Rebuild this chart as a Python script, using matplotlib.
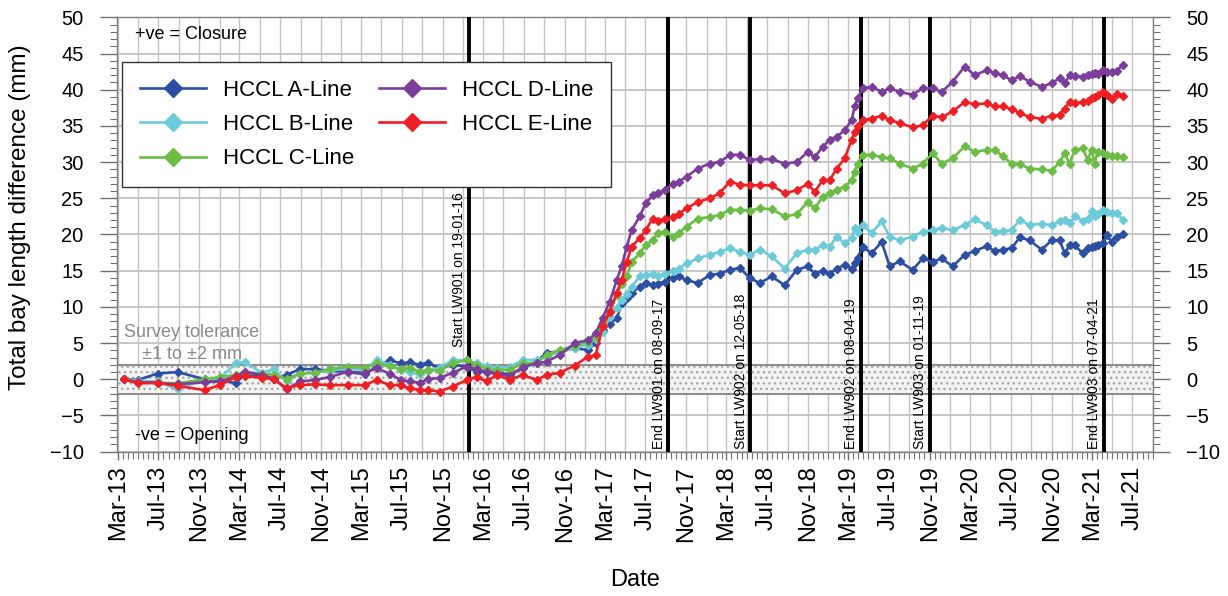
import matplotlib
matplotlib.use("Agg")
import matplotlib.pyplot as plt
import matplotlib.dates as mdates
import pandas as pd

plt.rcParams['font.family'] = ['Liberation Sans', 'DejaVu Sans']

# survey dates (shared by all five lines)
dates = [
    "2013-03-19", "2013-04-30", "2013-06-29", "2013-08-28", "2013-11-17", "2014-01-01",
    "2014-02-18", "2014-03-17", "2014-05-07", "2014-06-12", "2014-07-21", "2014-08-29",
    "2014-10-13", "2014-11-27", "2015-01-20", "2015-03-12", "2015-04-17", "2015-05-26",
    "2015-06-28", "2015-07-25", "2015-08-24", "2015-09-17", "2015-10-23", "2015-12-01",
    "2016-01-12", "2016-02-11", "2016-03-12", "2016-04-11", "2016-05-20", "2016-06-28",
    "2016-08-09", "2016-09-08", "2016-10-17", "2016-12-01", "2017-01-09", "2017-02-02",
    "2017-02-23", "2017-03-16", "2017-04-06", "2017-04-21", "2017-05-06", "2017-05-21",
    "2017-06-14", "2017-07-02", "2017-07-23", "2017-08-07", "2017-08-28", "2017-09-21",
    "2017-10-09", "2017-11-02", "2017-12-05", "2018-01-10", "2018-02-09", "2018-03-11",
    "2018-04-10", "2018-05-10", "2018-06-09", "2018-07-15", "2018-08-23", "2018-09-28",
    "2018-10-31", "2018-11-21", "2018-12-15", "2019-01-05", "2019-01-26", "2019-02-19",
    "2019-03-12", "2019-03-21", "2019-03-30", "2019-04-14", "2019-05-11", "2019-06-10",
    "2019-07-04", "2019-08-03", "2019-09-11", "2019-10-11", "2019-11-10", "2019-12-07",
    "2020-01-09", "2020-02-14", "2020-03-15", "2020-04-20", "2020-05-14", "2020-06-07",
    "2020-07-04", "2020-07-28", "2020-08-27", "2020-10-02", "2020-11-01", "2020-11-25",
    "2020-12-10", "2020-12-25", "2021-01-09", "2021-02-02", "2021-02-17", "2021-03-01",
    "2021-03-10", "2021-03-19", "2021-04-03", "2021-04-15", "2021-04-30", "2021-05-15",
    "2021-06-02",
]

line_a = [0, -0.1, 0.8, 1.0, 0.0, -0.1, -0.55, 0.7, 0.6, 0.1, 0.6, 1.4,
          1.4, 1.2, 1.0, 0.7, 1.75, 2.65, 2.2, 2.35, 2.0, 2.3, 1.5, 2.0,
          1.75, 1.05, 1.05, 0.9, 0.7, 1.5, 2.45, 3.7, 3.8, 4.3, 4.05, 5.0,
          6.8, 7.7, 8.4, 10.5, 11.2, 11.9, 12.8, 13.3, 13.0, 13.2, 13.5, 14.0,
          14.2, 13.7, 13.3, 14.4, 14.6, 15.1, 15.4, 14.0, 13.3, 14.2, 13.0, 15.1,
          15.6, 14.6, 15.0, 14.6, 15.3, 15.8, 15.3, 16.0, 16.8, 18.3, 17.4, 19.0,
          15.6, 16.3, 15.1, 16.7, 16.2, 16.7, 15.6, 17.2, 17.7, 18.4, 17.7, 17.9,
          18.1, 19.6, 19.2, 17.9, 19.2, 19.2, 17.4, 18.5, 18.5, 17.4, 18.1, 18.3,
          18.4, 18.5, 18.8, 19.9, 19.0, 19.7, 20.1]
line_b = [0, -0.2, -0.3, -1.4, 0.0, 0.1, 2.2, 2.4, 0.9, 1.4, -0.3, 0.8,
          0.9, 1.2, 1.5, 1.3, 2.7, 2.0, 1.3, 1.0, 0.7, 1.2, 1.6, 2.65,
          2.65, 2.2, 1.8, 1.6, 1.7, 2.65, 2.7, 3.1, 3.8, 4.3, 4.8, 5.6,
          6.6, 8.6, 9.8, 10.95, 11.8, 12.8, 14.2, 14.4, 14.6, 14.2, 14.6, 15.0,
          15.3, 16.0, 16.7, 17.2, 17.6, 18.1, 17.6, 17.2, 17.9, 17.0, 15.3, 17.4,
          17.9, 17.9, 18.5, 18.3, 19.7, 18.8, 19.5, 20.9, 20.4, 21.3, 20.2, 21.8,
          19.7, 19.2, 19.7, 20.4, 20.6, 20.9, 20.6, 21.3, 22.1, 21.3, 20.4, 20.5,
          20.6, 22.0, 21.3, 21.5, 21.3, 21.8, 22.0, 21.6, 22.5, 21.9, 22.1, 23.2,
          22.6, 22.8, 23.4, 23.1, 23.0, 23.0, 22.0]
line_c = [0, -0.4, -0.5, -0.55, 0.0, 0.3, 0.6, 0.9, 0.8, 0.6, 0.0, 0.8,
          0.9, 1.4, 1.75, 1.6, 2.2, 1.8, 1.4, 1.6, 1.05, 1.3, 1.2, 2.2,
          2.65, 2.0, 1.4, 1.3, 1.3, 2.2, 2.3, 3.4, 4.05, 4.6, 5.2, 5.9,
          7.7, 9.5, 11.6, 13.2, 14.2, 16.2, 17.4, 18.5, 19.2, 20.2, 20.4, 19.7,
          20.2, 21.1, 22.2, 22.4, 22.7, 23.4, 23.4, 23.3, 23.6, 23.5, 22.5, 22.8,
          24.5, 23.6, 25.2, 25.7, 26.2, 26.6, 27.5, 28.7, 29.8, 31.0, 31.0, 30.7,
          30.5, 29.8, 29.1, 29.8, 31.2, 29.8, 30.5, 32.2, 31.4, 31.7, 31.7, 30.8,
          29.8, 29.7, 29.1, 29.0, 28.8, 30.0, 31.2, 29.8, 31.7, 31.9, 30.3, 31.7,
          29.8, 31.4, 31.2, 31.0, 30.8, 30.8, 30.7]
line_d = [0, -0.4, -0.5, -0.7, -0.4, -0.3, 0.4, 1.05, 0.6, 0.1, -1.4, -0.3,
          -0.1, 0.3, 1.05, 0.9, 1.5, 0.8, -0.1, -0.3, -0.45, 0.0, 0.2, 0.9,
          1.75, 1.4, 1.0, 0.7, 0.45, 1.7, 2.2, 2.45, 3.35, 5.0, 5.4, 6.35,
          8.5, 10.7, 13.7, 15.6, 18.3, 20.6, 22.5, 24.3, 25.4, 25.7, 26.1, 27.0,
          27.3, 28.0, 29.1, 29.8, 30.0, 31.0, 31.0, 30.3, 30.4, 30.4, 29.8, 30.0,
          31.4, 30.7, 32.1, 33.1, 33.5, 34.4, 35.8, 37.7, 38.8, 40.2, 40.4, 39.7,
          40.2, 39.7, 39.3, 40.2, 40.2, 39.7, 41.1, 43.2, 42.0, 42.7, 42.3, 42.0,
          41.3, 41.9, 41.1, 40.4, 40.9, 41.6, 40.9, 42.0, 41.9, 41.8, 42.0, 42.2,
          42.3, 42.2, 42.7, 42.4, 42.5, 42.6, 43.4]
line_e = [0, -0.55, -0.5, -0.9, -1.5, -0.8, 0.3, 0.45, 0.2, 0.0, -1.2, -0.8,
          -0.7, -0.8, -0.8, -0.8, -0.1, -0.8, -0.8, -1.25, -1.5, -1.5, -1.7, -1.0,
          -0.1, 0.3, -0.3, 0.6, -0.1, 0.6, -0.1, 0.6, 0.9, 1.9, 3.1, 3.35,
          7.3, 9.3, 11.9, 13.7, 16.2, 18.3, 19.5, 20.6, 22.2, 21.8, 22.2, 22.4,
          22.9, 23.6, 24.5, 25.0, 25.7, 27.3, 26.9, 26.8, 26.8, 26.8, 25.7, 26.1,
          27.0, 25.9, 27.5, 27.5, 29.1, 30.5, 33.1, 34.2, 35.0, 35.8, 36.0, 36.4,
          35.8, 35.4, 34.8, 35.1, 36.4, 36.2, 37.0, 38.3, 38.0, 38.1, 37.7, 37.7,
          37.3, 36.8, 36.2, 36.0, 36.4, 36.5, 37.4, 38.3, 38.1, 38.3, 38.5, 38.8,
          39.0, 39.3, 39.7, 39.2, 38.7, 39.4, 39.1]

series_names = ["HCCL A-Line", "HCCL B-Line", "HCCL C-Line", "HCCL D-Line", "HCCL E-Line"]
series_colors = ["#2d4fa3", "#6ccbd9", "#6cbd45", "#7c3e9b", "#ee2025"]

event_dates = ["2016-01-19", "2017-09-08", "2018-05-12", "2019-04-08", "2019-11-01", "2021-04-07"]
event_labels = ["Start LW901 on 19-01-16", "End LW901 on 08-09-17", "Start LW902 on 12-05-18",
                "End LW902 on 08-04-19", "Start LW903 on 01-11-19", "End LW903 on 07-04-21"]
event_label_y = [4.5, -9.6, -9.6, -9.6, -9.6, -9.6]

GRID = "#b8b8b8"
x = pd.to_datetime(dates)

fig = plt.figure(figsize=(12.28, 5.96), dpi=100)
ax = fig.add_axes([117 / 1228, 1 - 451.7 / 596, 1036 / 1228, 434.4 / 596])

x0, x1 = pd.Timestamp("2013-02-27"), pd.Timestamp("2021-09-01")
ax.set_xlim(x0, x1)
ax.set_ylim(-10, 50)

# grid: horizontal every 5 mm, vertical every 2 months
for yv in range(-10, 51, 5):
    ax.axhline(yv, color=GRID, lw=1.1, zorder=0)
for d in pd.date_range("2013-03-01", "2021-09-01", freq="2MS"):
    ax.axvline(d, color="#c4c4c4", lw=1.0, zorder=0)

# survey tolerance band
ax.axhspan(-2, 2, facecolor="#f3f3f3", edgecolor="#a8a8a8", hatch="...", lw=0, zorder=1)
ax.axhline(2, color="#8c8c8c", lw=1.4, zorder=1)
ax.axhline(-2, color="#8c8c8c", lw=1.4, zorder=1)

for d, lbl, ly in zip(event_dates, event_labels, event_label_y):
    dt = pd.Timestamp(d)
    ax.axvline(dt, color="black", lw=2.8, zorder=3)
    ax.annotate(lbl, (dt, ly), xytext=(-2, 0), textcoords="offset points",
                rotation=90, ha="right", va="bottom", fontsize=10, zorder=6)

for vals, name, col in zip([line_a, line_b, line_c, line_d, line_e], series_names, series_colors):
    ax.plot(x, vals, color=col, lw=1.9, marker="D", markersize=3.6, label=name, zorder=4)

ax.text(0.017, 47.6, "+ve = Closure", transform=ax.get_yaxis_transform(),
        fontsize=13, va="center")
ax.text(0.017, -7.7, "-ve = Opening", transform=ax.get_yaxis_transform(),
        fontsize=13, va="center")
ax.text(0.072, 6.4, "Survey tolerance", transform=ax.get_yaxis_transform(),
        fontsize=13, va="center", ha="center", color="#8a8a8a")
ax.text(0.072, 3.4, "±1 to ±2 mm", transform=ax.get_yaxis_transform(),
        fontsize=13, va="center", ha="center", color="#8a8a8a")

leg = ax.legend(ncol=2, loc="upper left", bbox_to_anchor=(0.0048, 0.897), fontsize=16,
                frameon=True, fancybox=False, edgecolor="#333333", framealpha=1,
                handlelength=3.0, handletextpad=0.75, columnspacing=1.1,
                labelspacing=0.6, markerscale=2.6, borderpad=0.8, borderaxespad=0)
leg.get_frame().set_linewidth(1.0)
leg.set_zorder(7)

ax.xaxis.set_major_locator(mdates.MonthLocator(bymonth=(3, 7, 11)))
ax.xaxis.set_major_formatter(mdates.DateFormatter("%b-%y"))
ax.xaxis.set_minor_locator(mdates.MonthLocator(bymonthday=(1, 16)))
ax.set_yticks(range(-10, 51, 5))
ax.set_yticks(range(-10, 51, 1), minor=True)

ax.tick_params(axis="y", which="major", direction="out", length=12, width=1, color="#707070",
               labelsize=14.5, pad=12, left=True, right=True, labelleft=True, labelright=True)
ax.tick_params(axis="y", which="minor", direction="out", length=5, width=0.8, color="#707070",
               left=True, right=True)
ax.tick_params(axis="x", which="major", direction="out", length=6, width=1, color="#707070",
               labelsize=17, pad=4, labelrotation=90)
ax.tick_params(axis="x", which="minor", direction="out", length=5, width=0.8, color="#707070")

for s in ax.spines.values():
    s.set_color("#808080")
    s.set_linewidth(1.0)

ax.set_ylabel("Total bay length difference (mm)", fontsize=17.5)
ax.yaxis.set_label_coords(-0.083, 0.54)
ax.set_xlabel("Date", fontsize=17)
ax.xaxis.set_label_coords(0.5, -0.27)

fig.savefig("out.png", dpi=100)
